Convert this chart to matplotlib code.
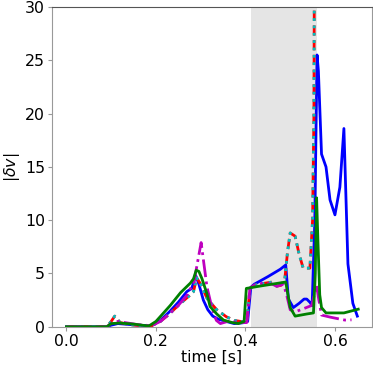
import matplotlib
matplotlib.use("Agg")
import matplotlib.pyplot as plt

# blue solid
t_blue = [0.0, 0.09, 0.10, 0.115, 0.13, 0.16, 0.19, 0.21, 0.23, 0.25, 0.269, 0.28, 0.289, 0.296, 0.306, 0.316, 0.327, 0.34, 0.357, 0.375, 0.39, 0.398, 0.405, 0.412, 0.42, 0.433, 0.45, 0.462, 0.478, 0.49, 0.496, 0.507, 0.52, 0.531, 0.537, 0.544, 0.549, 0.555, 0.560, 0.563, 0.570, 0.58, 0.589, 0.600, 0.611, 0.620, 0.629, 0.640, 0.650]
v_blue = [0.0, 0.0, 0.15, 0.3, 0.25, 0.15, 0.1, 0.6, 1.4, 2.3, 3.3, 3.6, 4.8, 4.0, 2.5, 1.6, 1.0, 0.7, 0.5, 0.3, 0.35, 0.4, 0.5, 3.7, 4.0, 4.3, 4.7, 5.0, 5.4, 5.8, 2.6, 1.8, 2.2, 2.6, 2.6, 2.3, 2.0, 10.0, 25.5, 24.0, 16.2, 15.0, 11.9, 10.5, 13.1, 18.6, 5.9, 2.2, 1.0]

# red dashed / cyan dotted (same series drawn twice)
t_red = [0.0, 0.09, 0.10, 0.108, 0.12, 0.14, 0.17, 0.19, 0.21, 0.23, 0.25, 0.277, 0.284, 0.291, 0.30, 0.315, 0.336, 0.357, 0.375, 0.39, 0.403, 0.41, 0.42, 0.43, 0.445, 0.46, 0.47, 0.48, 0.488, 0.494, 0.50, 0.511, 0.52, 0.529, 0.544, 0.550, 0.553, 0.556]
v_red = [0.0, 0.0, 0.5, 1.0, 0.4, 0.2, 0.1, 0.1, 0.5, 1.2, 2.0, 3.0, 3.3, 4.6, 4.0, 2.6, 1.6, 0.95, 0.6, 0.5, 0.5, 3.6, 3.9, 4.0, 4.1, 4.2, 3.8, 3.9, 4.5, 7.0, 8.8, 8.5, 6.8, 5.5, 5.5, 10.0, 20.0, 60.0]

# magenta dash-dot
t_mag = [0.0, 0.09, 0.10, 0.115, 0.13, 0.16, 0.19, 0.21, 0.23, 0.25, 0.27, 0.285, 0.301, 0.314, 0.325, 0.335, 0.344, 0.36, 0.38, 0.395, 0.403, 0.41, 0.42, 0.44, 0.46, 0.47, 0.485, 0.492, 0.50, 0.511, 0.53, 0.548, 0.559, 0.564, 0.570, 0.59, 0.622, 0.637]
v_mag = [0.0, 0.0, 0.3, 0.5, 0.4, 0.2, 0.1, 0.5, 1.2, 2.0, 3.0, 4.2, 7.9, 3.75, 1.8, 0.6, 0.3, 0.5, 0.45, 0.4, 0.4, 3.6, 3.9, 4.1, 4.0, 3.8, 4.0, 3.0, 1.6, 1.4, 1.7, 2.0, 3.9, 2.5, 1.1, 0.9, 0.63, 0.65]

# green solid
t_green = [0.0, 0.09, 0.10, 0.12, 0.15, 0.184, 0.20, 0.232, 0.255, 0.277, 0.284, 0.290, 0.296, 0.303, 0.314, 0.321, 0.336, 0.351, 0.37, 0.384, 0.397, 0.402, 0.43, 0.46, 0.49, 0.500, 0.511, 0.537, 0.552, 0.556, 0.559, 0.562, 0.566, 0.570, 0.58, 0.62, 0.652]
v_green = [0.0, 0.0, 0.3, 0.35, 0.25, 0.07, 0.5, 2.0, 3.2, 4.1, 4.5, 5.3, 5.2, 4.5, 3.1, 1.9, 1.2, 0.63, 0.4, 0.3, 0.5, 3.6, 3.8, 4.0, 4.2, 1.8, 1.0, 1.2, 1.3, 5.0, 12.1, 8.0, 3.0, 1.8, 1.3, 1.3, 1.65]

span_start, span_end = 0.412, 0.559

plt.rcParams['font.size'] = 11.3
fig = plt.figure(figsize=(3.73, 3.68), dpi=100)
ax = fig.add_axes([0.139, 0.112, 0.858, 0.869])

ax.axvspan(span_start, span_end, color='#e5e5e5', lw=0, zorder=0)
ax.plot(t_blue, v_blue, color='b', lw=2, ls='-')
ax.plot(t_red, v_red, color='r', lw=2, ls='--')
ax.plot(t_red, v_red, color='c', lw=2, ls=':')
ax.plot(t_mag, v_mag, color='m', lw=2, ls='-.')
ax.plot(t_green, v_green, color='g', lw=2, ls='-')

ax.set_xlim(-0.0325, 0.6825)
ax.set_ylim(0, 30)
ax.set_xticks([0.0, 0.2, 0.4, 0.6])
ax.set_yticks([0, 5, 10, 15, 20, 25, 30])
ax.set_xlabel('time [s]', labelpad=1)
ax.set_ylabel(r'$|\delta v|$', labelpad=2)
for s in ax.spines.values():
    s.set_color('#999999')
ax.spines['top'].set_color('#555555')
ax.tick_params(length=3, color='#999999', pad=2)

fig.savefig('out.png', dpi=100)
